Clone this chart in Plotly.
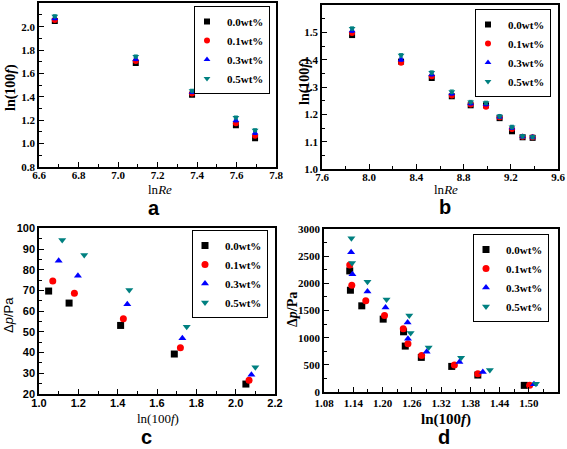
import plotly.graph_objects as go

W, H = 567, 449
series = ["0.0wt%", "0.1wt%", "0.3wt%", "0.5wt%"]
colors = ["#000000", "#ff0000", "#0000ff", "#008080"]
symbols = ["square", "circle", "triangle-up", "triangle-down"]

# Panel a
a_x = [6.68, 7.09, 7.375, 7.597, 7.694]
a_y = {
    "0.0wt%": [2.048, 1.690, 1.418, 1.157, 1.046],
    "0.1wt%": [2.058, 1.706, 1.428, 1.175, 1.068],
    "0.3wt%": [2.071, 1.722, 1.440, 1.197, 1.090],
    "0.5wt%": [2.090, 1.746, 1.453, 1.224, 1.115],
}
a_err = [0.012, 0.012, 0.012, 0.012, 0.012]

# Panel b
b_x = [7.855, 8.27, 8.53, 8.70, 8.86, 8.99, 9.105, 9.21, 9.30, 9.385]
b_y = {
    "0.0wt%": [1.490, 1.393, 1.333, 1.266, 1.233, 1.233, 1.186, 1.138, 1.116, 1.114],
    "0.1wt%": [1.498, 1.389, 1.339, 1.269, 1.236, 1.228, 1.189, 1.146, 1.118, 1.116],
    "0.3wt%": [1.506, 1.400, 1.346, 1.276, 1.240, 1.237, 1.191, 1.151, 1.119, 1.117],
    "0.5wt%": [1.514, 1.416, 1.353, 1.283, 1.245, 1.242, 1.193, 1.154, 1.120, 1.117],
}
b_err = [0.006] * 10

# Panel c
c_x = {
    "0.0wt%": [1.049, 1.153, 1.415, 1.688, 2.052],
    "0.1wt%": [1.070, 1.180, 1.429, 1.719, 2.068],
    "0.3wt%": [1.100, 1.198, 1.449, 1.729, 2.080],
    "0.5wt%": [1.118, 1.230, 1.459, 1.751, 2.100],
}
c_y = {
    "0.0wt%": [69.7, 63.9, 53.1, 39.3, 24.8],
    "0.1wt%": [74.5, 68.7, 56.3, 42.3, 26.6],
    "0.3wt%": [84.3, 77.1, 63.3, 46.9, 29.3],
    "0.5wt%": [94.3, 87.1, 70.2, 52.5, 32.9],
}

# Panel d
d_x = {
    "0.0wt%": [1.1328, 1.1342, 1.1575, 1.2014, 1.2432, 1.2467, 1.2796, 1.342, 1.3955, 1.4908],
    "0.1wt%": [1.1328, 1.1370, 1.1657, 1.2041, 1.2426, 1.2522, 1.2803, 1.3475, 1.3955, 1.5018],
    "0.3wt%": [1.1356, 1.1383, 1.1692, 1.2062, 1.2515, 1.2522, 1.2906, 1.3578, 1.4058, 1.5107],
    "0.5wt%": [1.1362, 1.1376, 1.1692, 1.2083, 1.2549, 1.2577, 1.2947, 1.3612, 1.4202, 1.5148],
}
d_y = {
    "0.0wt%": [2229, 1873, 1586, 1341, 1108, 845, 637, 471, 312, 122],
    "0.1wt%": [2339, 1965, 1678, 1408, 1163, 888, 673, 496, 337, 122],
    "0.3wt%": [2571, 2167, 1849, 1555, 1280, 980, 741, 551, 367, 141],
    "0.5wt%": [2829, 2376, 2027, 1702, 1408, 1084, 820, 631, 404, 153],
}

SERIF = "Liberation Serif"
SANS = "Liberation Sans"

fig = go.Figure()

def add(xs, ys, xa, ya, legend, size, err=None):
    for i, s in enumerate(series):
        x = xs[s] if isinstance(xs, dict) else xs
        kw = {}
        if err is not None:
            kw["error_y"] = dict(type="data", array=err, color=colors[i], thickness=1, width=2)
        fig.add_trace(go.Scatter(
            x=x, y=ys[s], mode="markers", name=s,
            marker=dict(symbol=symbols[i], color=colors[i], size=size, line=dict(width=0)),
            xaxis=xa, yaxis=ya, legend=legend, **kw))

add(a_x, a_y, "x", "y", "legend", 6, a_err)
add(b_x, b_y, "x2", "y2", "legend2", 6, b_err)
add(c_x, c_y, "x3", "y3", "legend3", 7)
add(d_x, d_y, "x4", "y4", "legend4", 7)

def xdom(a, b):
    return [a / W, b / W]

def ydom(top, bottom):
    return [1 - bottom / H, 1 - top / H]

def axis(dom, rng, dtick, minor, font, anchor, fmt, standoff=0):
    return dict(domain=dom, range=rng, dtick=dtick, tick0=rng[0], showgrid=False, zeroline=False,
                showline=True, linecolor="black", linewidth=1.5, mirror=True,
                ticks="inside", ticklen=5, tickwidth=1, tickcolor="black",
                minor=dict(dtick=minor, ticks="inside", ticklen=3, tickcolor="black"),
                tickfont=font, anchor=anchor, tickformat=fmt, automargin=False,
                ticklabelstandoff=standoff)

serif_b = dict(family=SERIF, size=11, color="black", weight="bold")
sans_b = dict(family=SANS, size=11, color="black", weight="bold")

fig.update_layout(
    xaxis=axis(xdom(39, 276), [6.6, 7.8], 0.2, 0.1, serif_b, "y", ".1f", -3),
    yaxis=axis(ydom(3.3, 167), [0.8, 2.2], 0.2, 0.1, serif_b, "x", ".1f"),
    xaxis2=axis(xdom(322, 558), [7.6, 9.6], 0.4, 0.2, serif_b, "y2", ".1f", -3),
    yaxis2=axis(ydom(5, 169), [1.0, 1.6], 0.1, 0.05, serif_b, "x2", ".1f"),
    xaxis3=axis(xdom(39, 275), [1.0, 2.2], 0.2, 0.1, sans_b, "y3", ".1f", -2),
    yaxis3=axis(ydom(228.3, 394), [20, 100], 10, 5, sans_b, "x3", "d"),
    xaxis4=axis(xdom(324, 558), [1.08, 1.56], 0.06, 0.03, serif_b, "y4", ".2f", 0),
    yaxis4=axis(ydom(229, 392), [0, 3000], 500, 250, serif_b, "x4", "d"),
)

leg_font = dict(family=SERIF, size=11, color="black", weight="bold")
def legend(xr, yt):
    return dict(x=xr / W, y=1 - yt / H, xanchor="right", yanchor="top", bgcolor="white",
                bordercolor="black", borderwidth=1, font=leg_font, tracegroupgap=0,
                itemwidth=30, indentation=-8)

fig.update_layout(
    legend=legend(270, 6), legend2=legend(551, 9), legend3=legend(268, 230), legend4=legend(549, 234),
    width=W, height=H, margin=dict(l=0, r=0, t=0, b=0),
    paper_bgcolor="white", plot_bgcolor="white", showlegend=True,
)

def ann(text, x, y, font, angle=0):
    fig.add_annotation(text=text, x=x / W, y=1 - y / H, xref="paper", yref="paper",
                       showarrow=False, font=font, textangle=angle, xanchor="center", yanchor="middle")

t_serif = dict(family=SERIF, size=13, color="black")
t_serif_b = dict(family=SERIF, size=14, color="black", weight="bold")
t_sans = dict(family=SANS, size=13, color="black")
letter = dict(family=SANS, size=20, color="black", weight="bold")

ann("ln<i>Re</i>", 160, 189, t_serif)
ann("ln(100<i>f</i>)", 11, 88, t_serif_b, -90)
ann("ln<i>Re</i>", 446, 189, t_serif)
ann("ln(100<i>f</i>)", 305, 82, t_serif_b, -90)
ann("ln(100<i>f</i>)", 158, 418, t_serif)
ann("Δ<i>p</i>/Pa", 8, 315, t_sans, -90)
ann("ln(100<i>f</i>)", 446, 419, dict(family=SERIF, size=15, color="black", weight="bold"))
ann("Δ<i>p</i>/Pa", 292, 310, t_serif_b, -90)
ann("a", 154, 208, letter)
ann("b", 445, 207, letter)
ann("c", 146, 437, letter)
ann("d", 444, 437, letter)

fig.write_html("out.html", config={"displayModeBar": False},
               post_script="document.body.style.margin='0';")
